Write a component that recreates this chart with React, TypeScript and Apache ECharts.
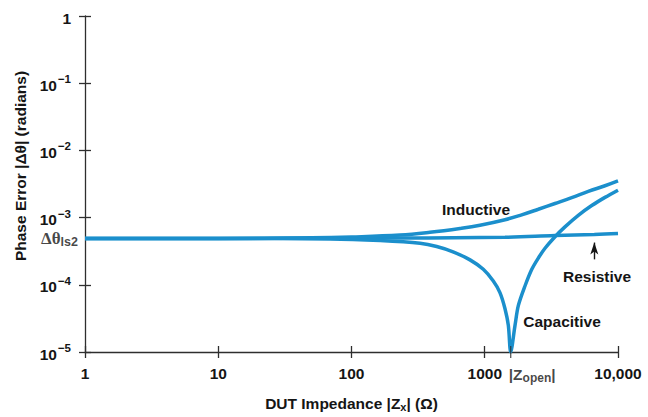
import React, { useEffect, useRef } from "react";
import * as echarts from "echarts";

const FONT = "'Liberation Sans', Arial, sans-serif";
const SERIF = "'Liberation Serif', 'DejaVu Serif', serif";
const LINE_COLOR = "#1b8fcc";
const AXIS_COLOR = "#2e2e2e";
const TEXT_COLOR = "#151515";

// x tick labels (log axis, Ω)
const xTickLabels: Record<number, string> = { 1: "1", 10: "10", 100: "100", 1000: "1000", 10000: "10,000" };
const zOpen = 1566;
const yMin = 1e-5;

// curves: [|Zx| (Ω), |Δθ| (rad)]
const resistive: [number, number][] = [
  [1, 4.9e-4], [10, 4.9e-4], [100, 4.95e-4], [1419, 5.1e-4], [3367, 5.4e-4], [6640, 5.6e-4], [10000, 5.8e-4],
];
const inductive: [number, number][] = [
  [1, 4.9e-4], [10, 4.9e-4], [50, 5.0e-4], [100, 5.15e-4], [231, 5.5e-4], [388, 6.05e-4], [652, 6.9e-4],
  [921, 7.7e-4], [1419, 9.3e-4], [1892, 1.1e-3], [2523, 1.33e-3], [3367, 1.62e-3],
  [4494, 1.98e-3], [5986, 2.45e-3], [7985, 2.98e-3], [10000, 3.52e-3],
];
const capacitive: [number, number][] = [
  [1, 4.9e-4], [10, 4.89e-4], [69, 4.82e-4], [164, 4.55e-4], [327, 4.15e-4], [436, 3.72e-4], [578, 3.1e-4],
  [775, 2.35e-4], [975, 1.7e-4], [1159, 1.14e-4], [1300, 7.66e-5], [1419, 4.41e-5], [1503, 2.49e-5],
  [1566, 1e-5], [1687, 2.49e-5], [1786, 4.89e-5], [2004, 9.6e-5], [2250, 1.69e-4], [2523, 2.5e-4],
  [2833, 3.5e-4], [3367, 5.2e-4], [4000, 7.28e-4], [5035, 1.08e-3], [6350, 1.51e-3], [7985, 2.0e-3],
  [10000, 2.56e-3],
];
// arrow from "Resistive" label up to the resistive curve
const arrowX = 6640;
const arrowFrom = 2.39e-4;
const arrowTo = 4.25e-4;

const labelStyle = { fontFamily: FONT, fontSize: 15.5, fontWeight: "bold" as const, color: TEXT_COLOR };

export default function App() {
  const ref = useRef<HTMLDivElement>(null);
  useEffect(() => {
    if (!ref.current) return;
    const chart = echarts.init(ref.current, undefined, { renderer: "svg" });
    const axisLineStyle = { color: AXIS_COLOR, width: 1.3 };
    const curveStyle = { color: LINE_COLOR, width: 3.5 };
    const option: any = {
      animation: false,
      backgroundColor: "#ffffff",
      grid: { left: 85, right: 30, top: 16, bottom: 60, containLabel: false },
      xAxis: [
        {
          type: "log", logBase: 10, min: 1, max: 10000, position: "bottom",
          axisLine: { lineStyle: axisLineStyle },
          axisTick: { length: 6, lineStyle: axisLineStyle },
          splitLine: { show: false },
          axisLabel: { ...labelStyle, margin: 13, formatter: (v: number) => xTickLabels[Math.round(v)] ?? "" },
          name: "{n|DUT Impedance |Z}{s|x}{n|| (Ω)}",
          nameLocation: "middle", nameGap: 42,
          nameTextStyle: {
            ...labelStyle,
            rich: {
              n: { ...labelStyle },
              s: { ...labelStyle, fontSize: 11, padding: [7, 0, 0, 0] },
            },
          },
        },
        {
          type: "log", logBase: 10, min: 1, max: 10000, position: "bottom",
          axisLine: { show: false },
          axisTick: { inside: true, length: 6, lineStyle: axisLineStyle },
          axisLabel: { show: false }, splitLine: { show: false },
        },
      ],
      yAxis: [
        {
          type: "log", logBase: 10, min: yMin, max: 1, position: "left",
          axisLine: { lineStyle: axisLineStyle },
          axisTick: { length: 6, lineStyle: axisLineStyle },
          splitLine: { show: false },
          axisLabel: {
            ...labelStyle, margin: 14,
            formatter: (v: number) => {
              const e = Math.round(Math.log10(v));
              return e === 0 ? "{b|1}" : "{b|10}{s|−" + -e + "}";
            },
            rich: {
              b: { ...labelStyle, lineHeight: 20, verticalAlign: "bottom" },
              s: { ...labelStyle, fontSize: 11.5, lineHeight: 12, verticalAlign: "top", padding: [0, 0, 0, 1] },
            },
          },
          name: "Phase Error |Δθ| (radians)",
          nameLocation: "middle", nameGap: 40,
          nameTextStyle: { ...labelStyle, padding: [0, 0, 0, 36] },
        },
        {
          type: "log", logBase: 10, min: yMin, max: 1, position: "left",
          axisLine: { show: false },
          axisTick: { inside: true, length: 6, lineStyle: axisLineStyle },
          axisLabel: { show: false }, splitLine: { show: false },
        },
      ],
      series: [
        {
          name: "Resistive", type: "line", data: resistive, smooth: 0.4, showSymbol: false,
          lineStyle: curveStyle, clip: true, z: 3,
          markLine: {
            silent: true, symbol: ["none", "arrow"], symbolSize: [6, 12],
            lineStyle: { color: TEXT_COLOR, width: 1.4, type: "solid" },
            itemStyle: { color: TEXT_COLOR },
            label: { show: false },
            data: [[
              { coord: [arrowX, arrowFrom], symbol: "none" },
              { coord: [arrowX, arrowTo], symbol: "arrow", symbolSize: [6, 12] },
            ]],
          },
        },
        {
          name: "Inductive", type: "line", data: inductive, smooth: 0.4, showSymbol: false,
          lineStyle: curveStyle, clip: true, z: 3,
        },
        {
          name: "Capacitive", type: "line", data: capacitive, smooth: 0.3, showSymbol: false,
          lineStyle: curveStyle, clip: true, z: 3,
        },
        {
          // Δθ_ls2 label at the common low-impedance value, |Z_open| tick on the x axis
          type: "scatter", clip: false, z: 5, silent: true,
          data: [
            {
              value: [1, resistive[0][1]], symbolSize: 0,
              label: {
                show: true, position: "left", distance: 7, offset: [0, 1],
                formatter: "{g|Δθ}{u|ls2}",
                rich: {
                  g: { fontFamily: SERIF, fontSize: 17, fontWeight: "bold", color: TEXT_COLOR, lineHeight: 18, verticalAlign: "top" },
                  u: { ...labelStyle, fontSize: 12.5, lineHeight: 13, padding: [8, 0, 0, 0], verticalAlign: "bottom" },
                },
              },
            },
            {
              value: [zOpen, yMin], symbol: "rect", symbolSize: [1.3, 12],
              itemStyle: { color: AXIS_COLOR },
              label: {
                show: true, position: [-1.3, 20],
                formatter: "{z||Z}{o|open}{z||}",
                rich: {
                  z: { ...labelStyle, lineHeight: 18, verticalAlign: "top" },
                  o: { ...labelStyle, fontSize: 12, lineHeight: 12, padding: [7, 0, 0, 0], verticalAlign: "bottom" },
                },
              },
            },
          ],
        },
      ],
      graphic: [
        { type: "text", x: 476, y: 209, style: { text: "Inductive", ...labelStyle, fill: TEXT_COLOR, align: "center", verticalAlign: "middle" } },
        { type: "text", x: 597, y: 276, style: { text: "Resistive", ...labelStyle, fill: TEXT_COLOR, align: "center", verticalAlign: "middle" } },
        { type: "text", x: 562, y: 321, style: { text: "Capacitive", ...labelStyle, fill: TEXT_COLOR, align: "center", verticalAlign: "middle" } },
      ],
    };
    chart.setOption(option);
    return () => chart.dispose();
  }, []);
  return <div ref={ref} style={{ width: 648, height: 417, position: "absolute", left: 0, top: 0 }} />;
}
